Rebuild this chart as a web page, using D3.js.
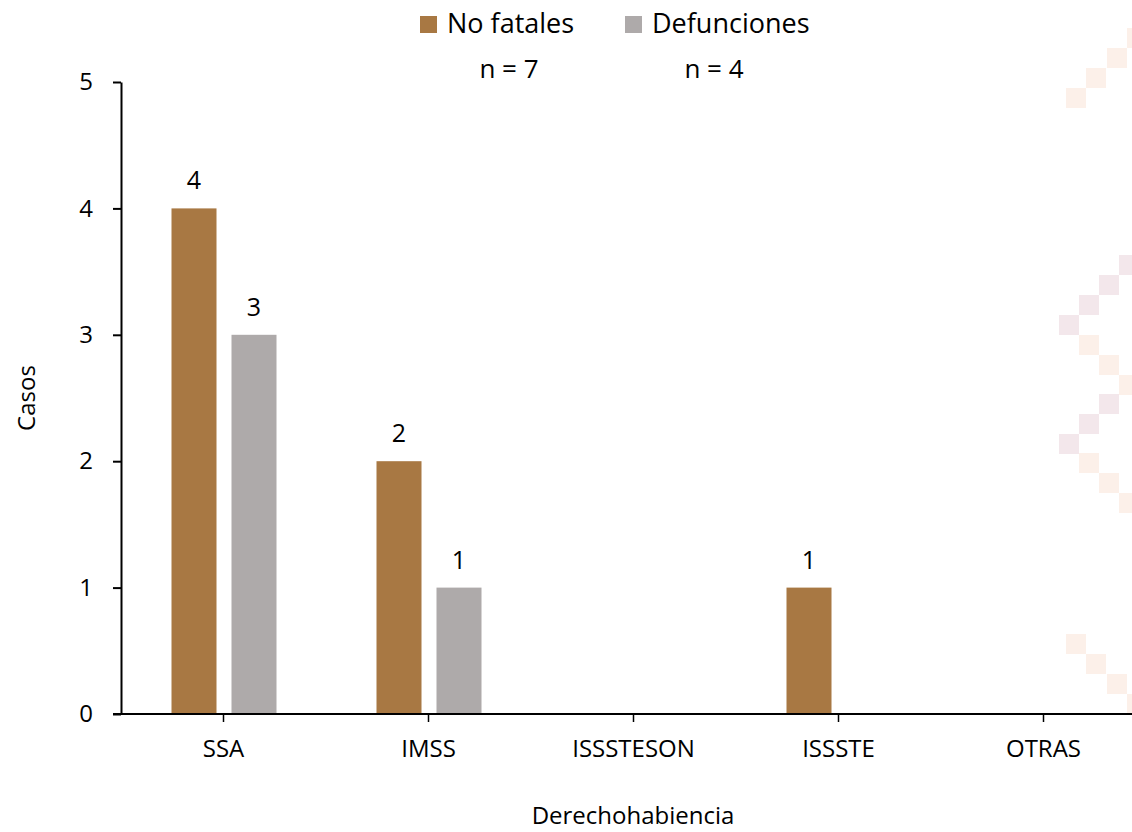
<!DOCTYPE html>
<html>
<head>
<meta charset="utf-8">
<script src="https://cdn.jsdelivr.net/npm/d3@7"></script>
<style>
  body { margin: 0; background: #fff; }
  svg { display: block; font-family: "Open Sans", "Noto Sans", sans-serif; }
</style>
</head>
<body>
<div id="chart"></div>
<script>
const categories = ["SSA", "IMSS", "ISSSTESON", "ISSSTE", "OTRAS"];
const seriesNames = ["No fatales", "Defunciones"];
const noFatales = [4, 2, 0, 1, 0];
const defunciones = [3, 1, 0, 0, 0];
const seriesTotals = ["n = 7", "n = 4"];
const yTicks = [0, 1, 2, 3, 4, 5];
const colors = ["#a87843", "#aeaaaa"];

const width = 1132, height = 832;
const margin = { top: 82, right: -14, bottom: 118, left: 121 };

const svg = d3.select("#chart").append("svg")
  .attr("width", width)
  .attr("height", height);

// faint background squares on the right edge
const deco = [
  [1066, 88, 0], [1086, 68, 0], [1107, 48, 0], [1127, 28, 0],
  [1119, 255, 1], [1099, 275, 1], [1079, 295, 1], [1059, 315, 1],
  [1079, 335, 0], [1099, 355, 0], [1119, 375, 0],
  [1099, 394, 1], [1079, 414, 1], [1059, 434, 1],
  [1079, 453, 0], [1099, 473, 0], [1119, 493, 0],
  [1066, 634, 0], [1086, 654, 0], [1107, 674, 0], [1127, 694, 0]
];
svg.append("g").selectAll("rect")
  .data(deco)
  .join("rect")
  .attr("x", d => d[0])
  .attr("y", d => d[1])
  .attr("width", 20)
  .attr("height", 20)
  .attr("fill", d => d[2] ? "#f3e7eb" : "#fcf0e9");

const x = d3.scaleBand()
  .domain(categories)
  .range([margin.left, width - margin.right]);

const xInner = d3.scaleBand()
  .domain(seriesNames)
  .range([0, 105])
  .paddingInner(0.25);

const y = d3.scaleLinear()
  .domain([0, 5])
  .range([height - margin.bottom, margin.top]);

const rows = categories.map((c, i) => ({
  category: c,
  values: [
    { series: seriesNames[0], value: noFatales[i] },
    { series: seriesNames[1], value: defunciones[i] }
  ]
}));

const groups = svg.append("g").selectAll("g")
  .data(rows)
  .join("g")
  .attr("transform", d => `translate(${x(d.category) + x.bandwidth() / 2 - 52},0)`);

const bars = groups.selectAll("g")
  .data(d => d.values.filter(v => v.value > 0))
  .join("g");

bars.append("rect")
  .attr("x", d => xInner(d.series))
  .attr("y", d => y(d.value))
  .attr("width", xInner.bandwidth())
  .attr("height", d => y(0) - y(d.value))
  .attr("fill", d => colors[seriesNames.indexOf(d.series)]);

bars.append("text")
  .attr("x", d => xInner(d.series) + xInner.bandwidth() / 2)
  .attr("y", d => y(d.value) - 19)
  .attr("text-anchor", "middle")
  .attr("font-size", 25)
  .attr("fill", "#000")
  .text(d => d.value);

// y axis
const yAxis = svg.append("g")
  .attr("transform", `translate(${margin.left},0)`)
  .call(d3.axisLeft(y).tickValues(yTicks).tickFormat(d3.format("d"))
    .tickSize(8).tickPadding(20).tickSizeOuter(0));
yAxis.select(".domain").attr("stroke", "#000").attr("stroke-width", 2);
yAxis.selectAll(".tick line").attr("stroke", "#000").attr("stroke-width", 2);
yAxis.selectAll(".tick text")
  .attr("font-size", 24)
  .attr("font-family", "Open Sans")
  .attr("fill", "#000");

// x axis
const xAxis = svg.append("g")
  .attr("transform", `translate(0,${y(0)})`)
  .call(d3.axisBottom(x).tickSize(8).tickPadding(18).tickSizeOuter(0));
xAxis.select(".domain").attr("stroke", "#000").attr("stroke-width", 2)
  .attr("d", `M${margin.left - 8},0H${width}`);
xAxis.selectAll(".tick line").attr("stroke", "#000").attr("stroke-width", 1.5);
xAxis.selectAll(".tick text")
  .attr("font-size", 24)
  .attr("font-family", "Open Sans")
  .attr("fill", "#000");

// axis titles
svg.append("text")
  .attr("transform", `translate(35,${(y(0) + y(5)) / 2}) rotate(-90)`)
  .attr("text-anchor", "middle")
  .attr("font-size", 24)
  .text("Casos");

svg.append("text")
  .attr("x", 633)
  .attr("y", 824)
  .attr("text-anchor", "middle")
  .attr("font-size", 24)
  .text("Derechohabiencia");

// legend
const legendX = [420, 625];
const legend = svg.append("g").selectAll("g")
  .data(seriesNames)
  .join("g")
  .attr("transform", (d, i) => `translate(${legendX[i]},0)`);

legend.append("rect")
  .attr("y", 16)
  .attr("width", 17)
  .attr("height", 17)
  .attr("fill", (d, i) => colors[i]);

legend.append("text")
  .attr("x", 27)
  .attr("y", 33)
  .attr("font-size", 27)
  .text(d => d);

legend.append("text")
  .attr("x", 89)
  .attr("y", 78)
  .attr("text-anchor", "middle")
  .attr("font-size", 26)
  .text((d, i) => seriesTotals[i]);
</script>
</body>
</html>
